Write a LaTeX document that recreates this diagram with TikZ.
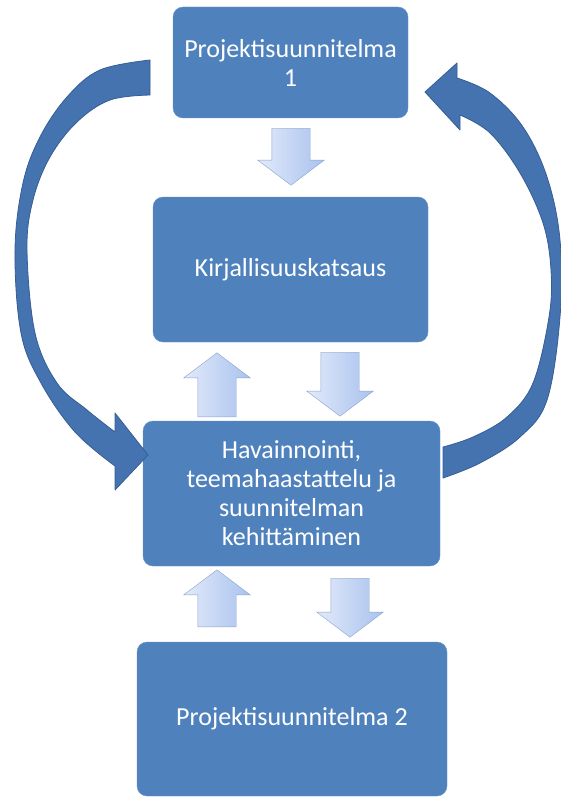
\documentclass[tikz,border=0pt]{standalone}
\usepackage{fontspec}
\setmainfont{Carlito}
\usepackage{tikz}
\usetikzlibrary{shapes,shapes.arrows,positioning}
\definecolor{boxblue}{HTML}{4F81BD}
\definecolor{bendblue}{HTML}{4473B0}
\definecolor{bendline}{HTML}{355E95}
\definecolor{paleblue}{HTML}{E2EAFA}
\definecolor{midblue}{HTML}{A9C2EE}
\definecolor{paleline}{HTML}{8AA4CE}

\begin{document}
\begin{tikzpicture}[x=1pt, y=-1pt,
    stagebox/.style={rectangle, rounded corners=10pt, fill=boxblue, draw=boxblue!85!white, text=white, align=center, font=\fontsize{26}{29}\selectfont},
    blockarrow/.style={single arrow, draw=paleline, left color=paleblue, right color=midblue, inner xsep=0pt, inner ysep=19pt, single arrow head extend=14pt, single arrow tip angle=106, anchor=tail},
    downarrow/.style={blockarrow, rotate=-90},
    uparrow/.style={blockarrow, rotate=90},
    bendarrow/.style={fill=bendblue, draw=bendline, line width=0.8pt, line join=round}]
    \useasboundingbox (0,0) rectangle (561,797);

    % the four stages
    \node[stagebox, minimum width=235pt, minimum height=111pt] (plan1) at (290.5,62.5) {Projektisuunnitelma\\1};
    \node[stagebox, minimum width=275pt, minimum height=145pt] (review) at (290.5,269.5) {Kirjallisuuskatsaus};
    \node[stagebox, minimum width=297pt, minimum height=145pt] (field) at (291.5,493.5) {Havainnointi,\\teemahaastattelu ja\\suunnitelman\\kehitt\"aminen};
    \node[stagebox, minimum width=310pt, minimum height=154pt] (plan2) at (292,719) {Projektisuunnitelma 2};

    % small block arrows
    \node[downarrow, minimum height=57pt] (down1) at (291,128) {};
    \node[uparrow, minimum height=64pt] (up1) at (217,417) {};
    \node[downarrow, minimum height=64pt] (down2) at (340,352) {};
    \node[uparrow, minimum height=57pt] (up2) at (217,627) {};
    \node[downarrow, minimum height=59pt] (down3) at (350,578) {};

    % big curved arrows
    \filldraw[bendarrow] plot[smooth, tension=.6] coordinates {(150,60) (100,70) (67,97) (40,137) (23,183) (15,250) (21,333) (41,383) (75,432) (115,466)}
        -- (115,490) -- (148,455) -- (115,413)
        -- plot[smooth, tension=.6] coordinates {(115,432) (87,410) (57,383) (35,333) (27,250) (33,200) (50,157) (77,122) (110,100) (150,95)} -- cycle;
    \filldraw[bendarrow] plot[smooth, tension=.6] coordinates {(443,478) (480,463) (520,437) (547,400) (560,317) (560,240) (547,177) (523,127) (490,93) (457,78)}
        -- (457,63) -- (425,92) -- (460,130)
        -- plot[smooth, tension=.6] coordinates {(460,115) (490,133) (520,173) (543,223) (551,270) (549,317) (533,383) (507,417) (473,437) (443,447)} -- cycle;
\end{tikzpicture}
\end{document}
